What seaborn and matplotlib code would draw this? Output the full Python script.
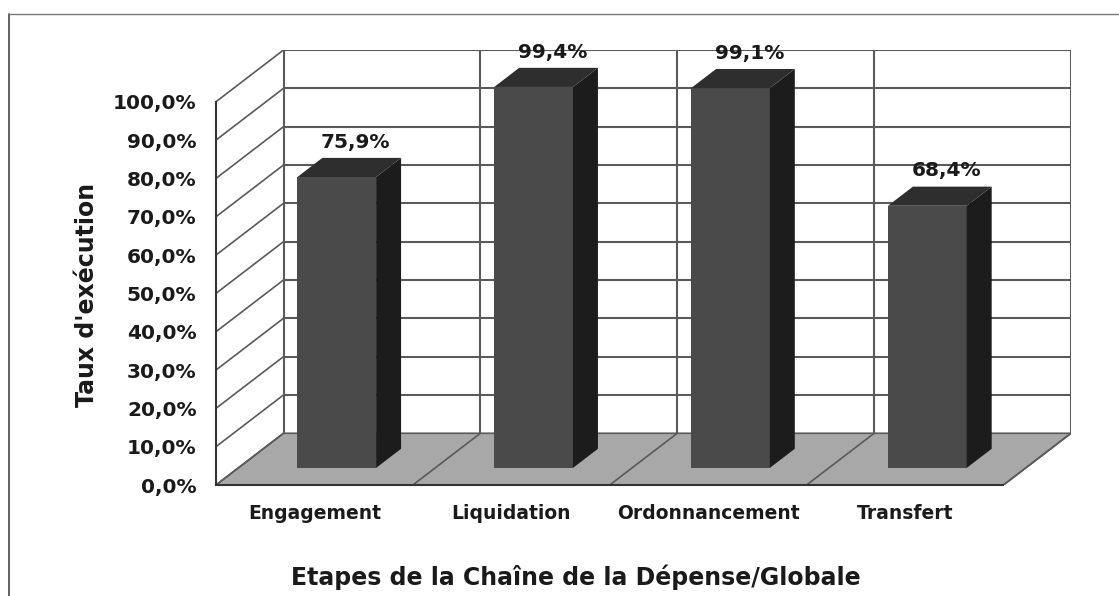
import pandas as pd
import matplotlib
matplotlib.use('Agg')
from matplotlib import pyplot as plt
from matplotlib.patches import Polygon
import seaborn as sns

# donnees du graphique
etapes = ['Engagement', 'Liquidation', 'Ordonnancement', 'Transfert']
taux = [75.9, 99.4, 99.1, 68.4]
etiquettes = ['75,9%', '99,4%', '99,1%', '68,4%']
graduations = [0, 10, 20, 30, 40, 50, 60, 70, 80, 90, 100]
labels_y = ['0,0%', '10,0%', '20,0%', '30,0%', '40,0%', '50,0%', '60,0%',
            '70,0%', '80,0%', '90,0%', '100,0%']

df = pd.DataFrame({'etape': etapes, 'taux': taux})

sns.set_style('white')
plt.rcParams['font.family'] = ['DejaVu Sans']

# profondeur de la vue 3D (en unites de donnees)
DX, DY = 0.343, 13.5
F0, F1 = 0.33, 0.70       # position avant/arriere des barres dans la profondeur
LW = 0.40                 # largeur des barres
grille = '#5a5a5a'
texte = '#1a1a1a'

fig = plt.figure(figsize=(11.19, 5.96), dpi=100)
ax = fig.add_axes([216 / 1119, 111 / 596, (1071 - 216) / 1119, (546 - 111) / 596])
ax.set_xlim(-0.5, 3.5 + DX)
ax.set_ylim(0, 100 + DY)
ax.patch.set_alpha(0)

# sol gris
ax.add_patch(Polygon([(-0.5, 0), (3.5, 0), (3.5 + DX, DY), (-0.5 + DX, DY)],
                     closed=True, facecolor='#a8a8a8', edgecolor=grille, lw=1.2, zorder=1))
for k in range(5):
    ax.plot([k - 0.5, k - 0.5 + DX], [0, DY], color=grille, lw=1.2, zorder=2)

# mur du fond + mur gauche
for v in graduations:
    if v > 0:
        ax.plot([-0.5 + DX, 3.5 + DX], [v + DY, v + DY], color=grille, lw=1.5, zorder=2)
        ax.plot([-0.5, -0.5 + DX], [v, v + DY], color=grille, lw=1.2, zorder=2)
for k in range(5):
    ax.plot([k - 0.5 + DX] * 2, [DY, 100 + DY], color=grille, lw=1.5, zorder=2)

# barres (faces avant) avec seaborn
sns.barplot(data=df, x='etape', y='taux', color='#4a4a4a', width=LW,
            saturation=1, ax=ax, zorder=5, edgecolor='none')
ax.set_xlim(-0.5, 3.5 + DX)
ax.set_ylim(0, 100 + DY)

ox, oy = F0 * DX, F0 * DY
px, py = (F1 - F0) * DX, (F1 - F0) * DY
for i, p in enumerate(ax.containers[0]):
    x0 = p.get_x() + ox
    h = p.get_height()
    p.set_x(x0)
    p.set_y(oy)
    x1 = x0 + p.get_width()
    top = oy + h
    # face laterale
    ax.add_patch(Polygon([(x1, oy), (x1 + px, oy + py), (x1 + px, top + py), (x1, top)],
                         closed=True, facecolor='#1c1c1c', edgecolor='none', zorder=5))
    # dessus
    ax.add_patch(Polygon([(x0, top), (x1, top), (x1 + px, top + py), (x0 + px, top + py)],
                         closed=True, facecolor='#2e2e2e', edgecolor='none', zorder=5))
    ax.text(i + 0.21, h + F1 * DY + 1.6, etiquettes[i], ha='center', va='bottom',
            fontsize=14.5, fontweight='bold', color=texte, zorder=6)

# axes
sns.despine(ax=ax, top=True, right=True)
ax.spines['left'].set_bounds(0, 100)
ax.spines['bottom'].set_bounds(-0.5, 3.5)
for s in ['left', 'bottom']:
    ax.spines[s].set_color('#333333')
    ax.spines[s].set_linewidth(1.5)
    ax.spines[s].set_zorder(3)

ax.set_yticks(graduations)
ax.set_yticklabels(labels_y, fontsize=14.5, fontweight='bold', color=texte)
ax.set_xticks(range(len(etapes)))
ax.set_xticklabels(etapes, fontsize=13.5, fontweight='bold', color=texte)
ax.set_xticks([-0.5, 0.5, 1.5, 2.5, 3.5], minor=True)
ax.tick_params(axis='x', which='major', length=0, pad=14)
ax.tick_params(axis='x', which='minor', length=5, width=1.2, color='#333333')
ax.tick_params(axis='y', length=5, width=1.2, color='#333333', pad=9)

ax.set_xlabel('Etapes de la Chaîne de la Dépense/Globale', fontsize=17,
              fontweight='bold', color=texte)
ax.xaxis.set_label_coords(0.421, -0.183)
ax.set_ylabel("Taux d'exécution", fontsize=17, fontweight='bold', color=texte)
ax.yaxis.set_label_coords(-0.137, 0.437)

# cadre exterieur
fig.add_artist(plt.Line2D([9 / 1119, 9 / 1119], [0, 1 - 14 / 596], color='#555555', lw=1.3))
fig.add_artist(plt.Line2D([9 / 1119, 1], [1 - 14 / 596, 1 - 14 / 596], color='#777777', lw=1.0))

fig.savefig('out.png', dpi=100)
